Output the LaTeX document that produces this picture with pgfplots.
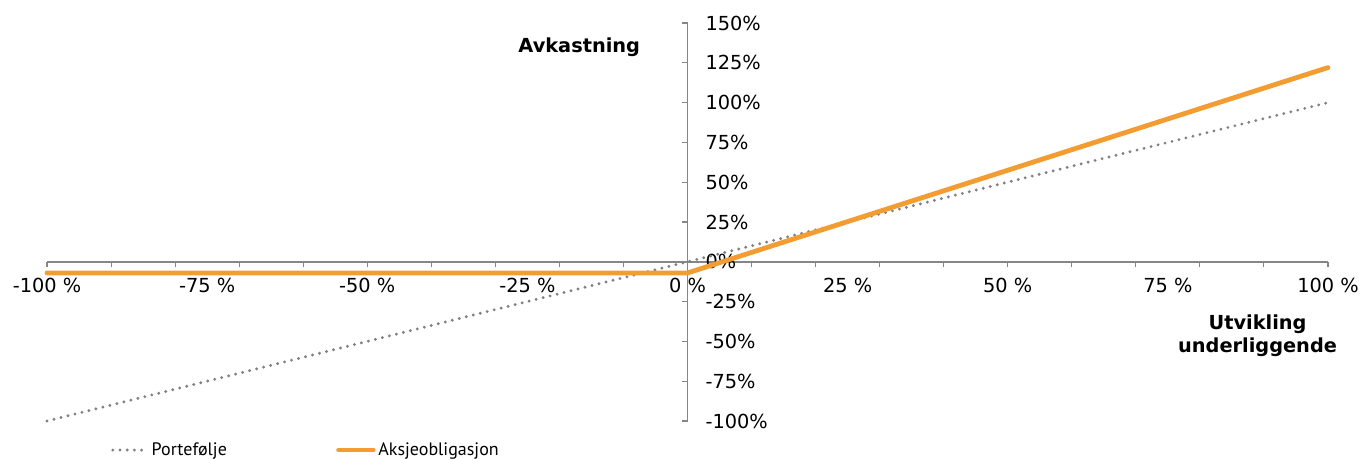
\documentclass[border=0pt]{standalone}
\usepackage{pgfplots}
\pgfplotsset{compat=1.18}
\usepackage{fontspec}
\setmainfont{DejaVu Sans}
\newfontfamily\legfont{PT Sans}
\definecolor{axgray}{RGB}{134,134,134}
\definecolor{dotgray}{RGB}{128,128,128}
\definecolor{korange}{RGB}{243,156,49}
\begin{document}
\begin{tikzpicture}
\useasboundingbox (0,0) rectangle (1020.75pt,345pt);
\begin{axis}[
  at={(35.25pt,29.25pt)}, anchor=south west,
  scale only axis, width=960.75pt, height=298.5pt,
  xmin=-100, xmax=100, ymin=-100, ymax=150,
  axis lines=middle,
  axis line style={axgray, line width=1.1pt, -},
  clip=false,
  hide obscured x ticks=false, hide obscured y ticks=false,
  font=\fontsize{14.5}{17}\selectfont,
  xtick={-100,-75,...,100},
  xticklabels={-100 \%,-75 \%,-50 \%,-25 \%,0 \%,25 \%,50 \%,75 \%,100 \%},
  minor xtick={-100,-90,...,100},
  ytick={-100,-75,...,150},
  yticklabels={-100\%,-75\%,-50\%,-25\%,0\%,25\%,50\%,75\%,100\%,125\%,150\%},
  tick align=outside,
  major x tick style={draw=none},
  minor x tick style={axgray, line width=0.8pt},
  major y tick style={axgray, line width=0.8pt},
  major tick length=4pt, minor tick length=4pt,
  xticklabel style={yshift=-5pt},
  yticklabel style={anchor=west, xshift=14pt},
  legend style={draw=none, fill=none, at={(0.0468,-0.073)}, anchor=west,
    font=\legfont\fontsize{13.5}{15}\selectfont,
    /tikz/every even column/.append style={column sep=80pt}},
  legend columns=2,
  legend image code/.code={\draw[#1] (0pt,0pt) -- (26pt,0pt);},
]
\addplot[dotgray, line width=2.4pt, dash pattern=on 0pt off 5.4pt, line cap=round]
  coordinates {(-100,-100) (100,100)};
\addlegendentry{Portefølje}
\addplot[korange, line width=3.6pt, line cap=round, line join=round]
  coordinates {(-100,-7) (0,-7) (100,122)};
\addlegendentry{Aksjeobligasjon}
\node[font=\bfseries\fontsize{14.5}{17}\selectfont] at (axis cs:-16.9,135) {Avkastning};
\node[font=\bfseries\fontsize{14.5}{17}\selectfont, align=center] at (axis cs:89,-46.5) {Utvikling\\underliggende};
\end{axis}
\end{tikzpicture}
\end{document}
